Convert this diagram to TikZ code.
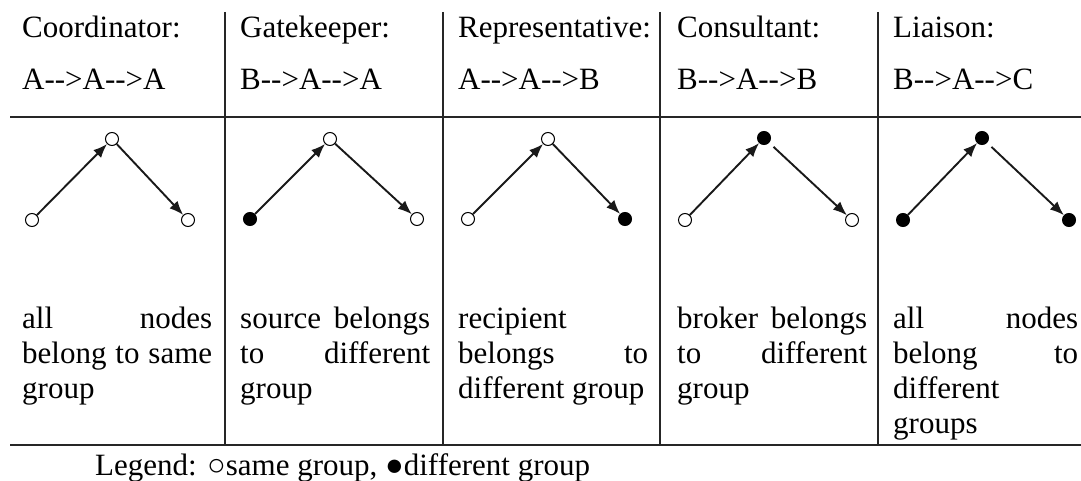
\documentclass[tikz,border=0pt]{standalone}
\usepackage{fontspec}
\setmainfont{Liberation Serif}
\usepackage{tikz}
\usetikzlibrary{arrows.meta,positioning}
\hyphenpenalty=10000
\exhyphenpenalty=10000
\tolerance=10000
\hbadness=10000
\newcommand{\cellfont}{\fontsize{31}{35}\selectfont}
\tikzset{
  rule/.style={
    line width=1.6pt,
    draw=black!85
  },
  head/.style={
    anchor=base west,
    inner sep=0pt,
    font=\cellfont
  },
  cell/.style={
    anchor=north west,
    inner sep=0pt,
    text width=190pt,
    align=justify,
    font=\cellfont
  },
  samegrp/.style={
    circle,
    draw,
    fill=white,
    minimum size=13pt,
    inner sep=0pt,
    line width=1pt
  },
  diffgrp/.style={samegrp,fill=black},
  tie/.style={-{Latex[length=14pt,width=11pt]},line width=1.9pt,draw=black!90}
}

\begin{document}
\begin{tikzpicture}[x=1pt,y=-1pt]
  \useasboundingbox (0,0) rectangle (1081,481);
  % table rules
  \draw[rule] (10,117) -- (1081,117);
  \draw[rule] (10,445) -- (1081,445);
  \draw[rule] (225,12) -- (225,445);
  \draw[rule] (443,12) -- (443,445);
  \draw[rule] (660,12) -- (660,445);
  \draw[rule] (878,12) -- (878,445);
  % headers
  \node[head] (role1) at (22,38) {Coordinator:};
  \node[head] (path1) at (22,90) {A-{}->A-{}->A};
  \node[head] (role2) at (240,38) {Gatekeeper:};
  \node[head] (path2) at (240,90) {B-{}->A-{}->A};
  \node[head] (role3) at (458,38) {Representative:};
  \node[head] (path3) at (458,90) {A-{}->A-{}->B};
  \node[head] (role4) at (677,38) {Consultant:};
  \node[head] (path4) at (677,90) {B-{}->A-{}->B};
  \node[head] (role5) at (893,38) {Liaison:};
  \node[head] (path5) at (893,90) {B-{}->A-{}->C};
  % triads
  \node[samegrp] (src1) at (32,220) {};
  \node[samegrp] (brk1) at (112,139) {};
  \node[samegrp] (dst1) at (188,220) {};
  \node[diffgrp] (src2) at (250,219) {};
  \node[samegrp] (brk2) at (330,139) {};
  \node[samegrp] (dst2) at (417,219) {};
  \node[samegrp] (src3) at (468,219) {};
  \node[samegrp] (brk3) at (548,139) {};
  \node[diffgrp] (dst3) at (625,219) {};
  \node[samegrp] (src4) at (685,220) {};
  \node[diffgrp] (brk4) at (764,138) {};
  \node[samegrp] (dst4) at (852,220) {};
  \node[diffgrp] (src5) at (903,220) {};
  \node[diffgrp] (brk5) at (982,138) {};
  \node[diffgrp] (dst5) at (1069,220) {};
  \draw[tie] (src1) -- (brk1);
  \draw[tie] (brk1) -- (dst1);
  \draw[tie] (src2) -- (brk2);
  \draw[tie] (brk2) -- (dst2);
  \draw[tie] (src3) -- (brk3);
  \draw[tie] (brk3) -- (dst3);
  \draw[tie] (src4) -- (brk4);
  \draw[tie,shorten <=6pt] (brk4) -- (dst4);
  \draw[tie] (src5) -- (brk5);
  \draw[tie,shorten <=6pt] (brk5) -- (dst5);
  % descriptions
  \node[cell] (note1) at (22,303.5) {\strut all nodes\linebreak belong to same\linebreak group};
  \node[cell] (note2) at (240,303.5) {\strut source belongs\linebreak to different\linebreak group};
  \node[cell] (note3) at (458,303.5) {\strut recipient\newline belongs to\linebreak different group};
  \node[cell] (note4) at (677,303.5) {\strut broker belongs\linebreak to different\linebreak group};
  \node[cell,text width=185pt] (note5) at (893,303.5) {\strut all nodes\linebreak belong to\linebreak different\newline groups};
  \node[head] (legend) at (95,475) {Legend: ○same group, ●different group};
\end{tikzpicture}
\end{document}
